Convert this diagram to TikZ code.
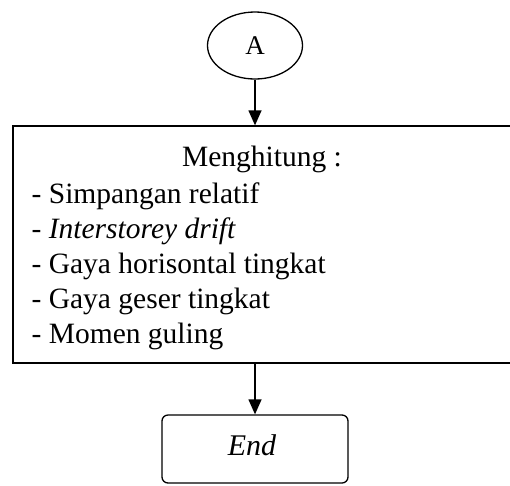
\documentclass[tikz,border=0pt]{standalone}
\usepackage{fontspec}
\setmainfont{Liberation Serif}
\usetikzlibrary{arrows.meta,shapes.geometric}
\begin{document}
\begin{tikzpicture}[x=1pt,y=-1pt,
  line width=1.3pt,
  bigfont/.style={font=\fontsize{29.5}{35}\selectfont},
  txt/.style={anchor=base west,inner sep=0pt,bigfont},
  arr/.style={-{Triangle[length=15pt,width=13pt]}}]
\useasboundingbox (0,0) rectangle (510,485);
\clip (0,0) rectangle (510,485);
\node[draw,ellipse,minimum width=95pt,minimum height=67pt,inner sep=0pt,font=\fontsize{27}{32}\selectfont] (a) at (255,45.5) {A};
\node[draw,rectangle,minimum width=547pt,minimum height=237pt,inner sep=0pt] (box) at (286.5,244.5) {};
\node[draw,rounded corners=6pt,minimum width=186pt,minimum height=68pt,inner sep=0pt] (end) at (255,449) {};
\node[txt,anchor=base,font=\fontsize{30}{35}\selectfont\itshape] (endt) at (252,455) {End};
\node[txt,anchor=base] (t0) at (262,166) {Menghitung :};
\node[txt] (t1) at (31,203) {- Simpangan relatif};
\node[txt] (t2) at (31,238) {- \textit{Interstorey drift}};
\node[txt] (t3) at (31,273) {- Gaya horisontal tingkat};
\node[txt] (t4) at (31,308) {- Gaya geser tingkat};
\node[txt] (t5) at (31,343) {- Momen guling};
\draw[arr] (a.south) -- (a.south |- box.north);
\draw[arr] (box.south -| end.north) -- (end.north);
\end{tikzpicture}
\end{document}
